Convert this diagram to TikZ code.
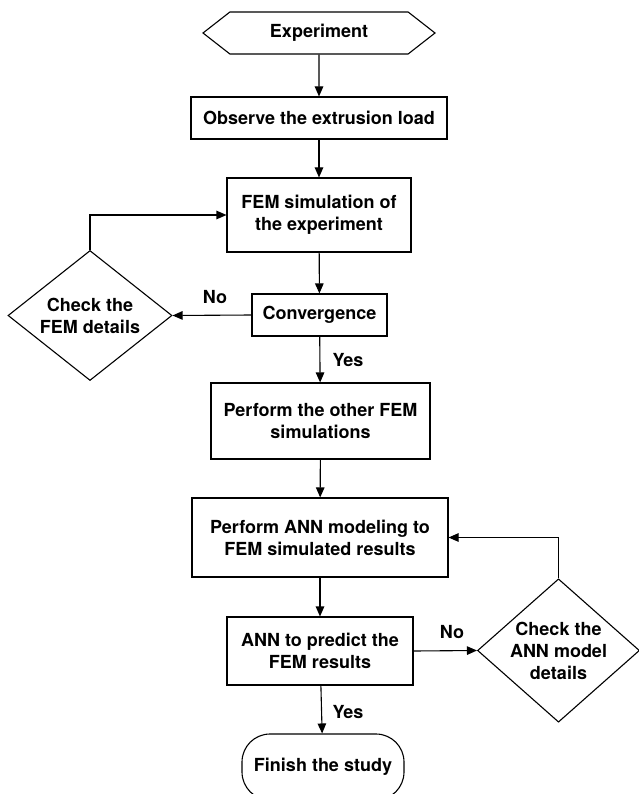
\documentclass[tikz,border=0pt]{standalone}
\usepackage{fontspec}
\setmainfont{TeX Gyre Heros}
\usetikzlibrary{arrows.meta,positioning,shapes.geometric,shapes.symbols}

\begin{document}
\begin{tikzpicture}[x=1pt,y=-1pt,
		lab/.style={font=\fontsize{18}{22}\selectfont\bfseries},
		box/.style={lab,draw=black,line width=1.1pt,align=center,inner sep=0pt},
		hexa/.style={box,shape=signal,signal to=west and east,signal pointer angle=76},
		check/.style={box,shape=diamond},
		term/.style={box,rounded corners=28pt},
		arr/.style={-{Triangle[length=10pt,width=8.5pt]},line width=1.1pt}
		]
		
		\useasboundingbox (0,0) rectangle (638,794);
		
		% --- Main column
		\node[hexa,minimum width=232pt,minimum height=42pt] (exp) at (319,33) {Experiment};
		\node[box,minimum width=256pt,minimum height=42pt] (obs) at (319,118) {Observe the extrusion load};
		\node[box,minimum width=184pt,minimum height=74pt] (femsim) at (319,215) {FEM simulation of\\the experiment};
		\node[box,minimum width=135pt,minimum height=42pt] (conv) at (319.5,315) {Convergence};
		\node[box,minimum width=219pt,minimum height=76pt] (others) at (320.5,421) {Perform the other FEM\\simulations};
		\node[box,minimum width=256pt,minimum height=79pt] (annmod) at (320,537.5) {Perform ANN modeling to\\FEM simulated results};
		\node[box,minimum width=186pt,minimum height=68pt] (annpred) at (320,651) {ANN to predict the\\FEM results};
		\node[term,minimum width=162pt,minimum height=66pt] (finish) at (323,767) {Finish the study};
		
		% --- Side checks
		\node[check,minimum width=164pt,minimum height=130pt,aspect=1.26] (femchk) at (90,315.5) {Check the\\FEM details};
		\node[check,minimum width=157pt,minimum height=139pt,aspect=1.13] (annchk) at (558.5,650.5) {Check the\\ANN model\\details};
		
		% --- Flow
		\draw[arr] (exp) -- (obs);
		\draw[arr] (obs) -- (femsim);
		\draw[arr] (femsim) -- (conv);
		\draw[arr] (conv) -- (others);
		\draw[arr] (others) -- (annmod);
		\draw[arr] (annmod) -- (annpred);
		\draw[arr] (annpred) -- (finish);
		
		% --- Loops back
		\draw[arr] (conv.west) -- (femchk.east);
		\draw[arr] (femchk.north) |- (femsim.west);
		\draw[arr] (annpred.east) -- (annchk.west);
		\draw[arr] (annchk.north) |- (annmod.east);
		
		% --- Decision labels
		\node[lab] (no1) at (215,297) {No};
		\node[lab] (yes1) at (348,360) {Yes};
		\node[lab] (no2) at (452,632) {No};
		\node[lab] (yes2) at (348,712) {Yes};
		
	\end{tikzpicture}
\end{document}
